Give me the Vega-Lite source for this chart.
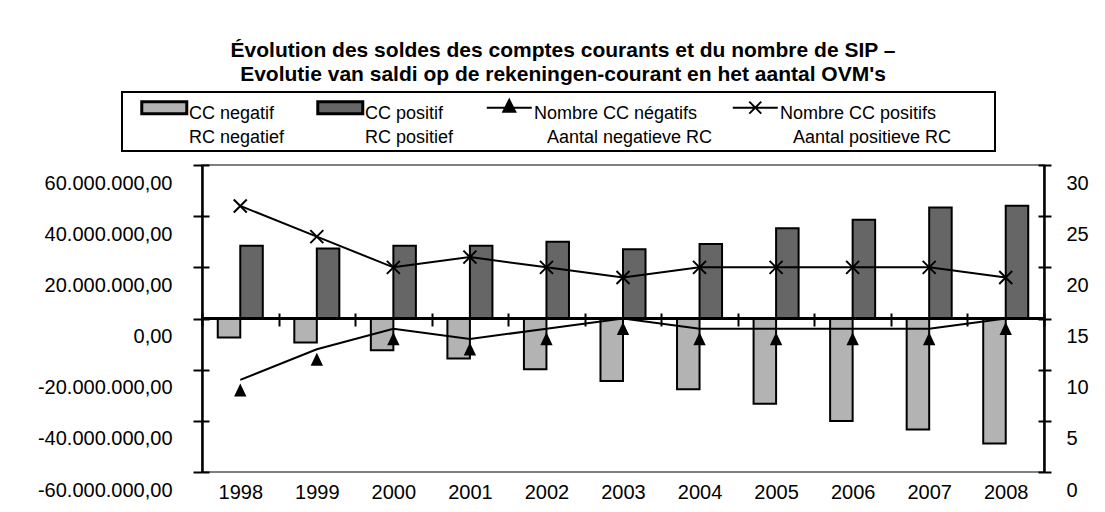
{
  "$schema": "https://vega.github.io/schema/vega-lite/v6.json",
  "width": 842,
  "height": 307,
  "autosize": {"type": "none"},
  "padding": {"left": 202, "top": 165, "right": 61, "bottom": 40},
  "background": "white",
  "title": {
    "text": ["Évolution des soldes des comptes courants et du nombre de SIP –", "Evolutie van saldi op de rekeningen-courant en het aantal OVM's"],
    "font": "Liberation Sans",
    "fontSize": 21,
    "fontWeight": "bold",
    "color": "black",
    "anchor": "middle",
    "frame": "group",
    "dx": -60,
    "dy": 24,
    "offset": 9,
    "lineHeight": 24.5,
    "baseline": "bottom"
  },
  "datasets": {
    "bars": [
      {"year": 1998, "series": "neg", "value": -7400000},
      {"year": 1998, "series": "pos", "value": 28400000},
      {"year": 1999, "series": "neg", "value": -9400000},
      {"year": 1999, "series": "pos", "value": 27400000},
      {"year": 2000, "series": "neg", "value": -12400000},
      {"year": 2000, "series": "pos", "value": 28400000},
      {"year": 2001, "series": "neg", "value": -15600000},
      {"year": 2001, "series": "pos", "value": 28400000},
      {"year": 2002, "series": "neg", "value": -19800000},
      {"year": 2002, "series": "pos", "value": 30000000},
      {"year": 2003, "series": "neg", "value": -24400000},
      {"year": 2003, "series": "pos", "value": 27100000},
      {"year": 2004, "series": "neg", "value": -27700000},
      {"year": 2004, "series": "pos", "value": 29100000},
      {"year": 2005, "series": "neg", "value": -33300000},
      {"year": 2005, "series": "pos", "value": 35300000},
      {"year": 2006, "series": "neg", "value": -40100000},
      {"year": 2006, "series": "pos", "value": 38600000},
      {"year": 2007, "series": "neg", "value": -43400000},
      {"year": 2007, "series": "pos", "value": 43400000},
      {"year": 2008, "series": "neg", "value": -48900000},
      {"year": 2008, "series": "pos", "value": 44100000}
    ],
    "counts": [
      {"year": 1998, "series": "neg", "count": 9},
      {"year": 1999, "series": "neg", "count": 12},
      {"year": 2000, "series": "neg", "count": 14},
      {"year": 2001, "series": "neg", "count": 13},
      {"year": 2002, "series": "neg", "count": 14},
      {"year": 2003, "series": "neg", "count": 15},
      {"year": 2004, "series": "neg", "count": 14},
      {"year": 2005, "series": "neg", "count": 14},
      {"year": 2006, "series": "neg", "count": 14},
      {"year": 2007, "series": "neg", "count": 14},
      {"year": 2008, "series": "neg", "count": 15},
      {"year": 1998, "series": "pos", "count": 26},
      {"year": 1999, "series": "pos", "count": 23},
      {"year": 2000, "series": "pos", "count": 20},
      {"year": 2001, "series": "pos", "count": 21},
      {"year": 2002, "series": "pos", "count": 20},
      {"year": 2003, "series": "pos", "count": 19},
      {"year": 2004, "series": "pos", "count": 20},
      {"year": 2005, "series": "pos", "count": 20},
      {"year": 2006, "series": "pos", "count": 20},
      {"year": 2007, "series": "pos", "count": 20},
      {"year": 2008, "series": "pos", "count": 19}
    ]
  },
  "layer": [
    {
      "data": {"name": "bars"},
      "layer": [
        {
          "mark": {"type": "bar", "stroke": "black", "strokeWidth": 2},
          "encoding": {
            "x": {
              "field": "year",
              "type": "ordinal",
              "scale": {"paddingInner": 0, "paddingOuter": 0},
              "axis": {
                "title": null,
                "orient": "bottom",
                "offset": -159,
                "domain": false,
                "tickBand": "extent",
                "tickSize": 13,
                "tickWidth": 2,
                "tickColor": "black",
                "labelPadding": 156,
                "labelAngle": 0,
                "labelFontSize": 20,
                "labelFont": "Liberation Sans",
                "labelColor": "black"
              }
            },
            "xOffset": {"field": "series", "scale": {"domain": ["neg", "pos"], "paddingInner": 0, "paddingOuter": 0.7}},
            "y": {
              "field": "value",
              "type": "quantitative",
              "scale": {"domain": [-60000000, 60000000], "nice": false, "zero": false},
              "axis": {
                "orient": "left",
                "title": null,
                "values": [-60000000, -40000000, -20000000, 0, 20000000, 40000000, 60000000],
                "format": ",.2f",
                "labelOffset": 18,
                "labelPadding": 21,
                "labelFontSize": 20,
                "labelFont": "Liberation Sans",
                "labelColor": "black",
                "labelFlush": false,
                "labelOverlap": false,
                "labelBound": false,
                "tickSize": 9,
                "tickWidth": 2,
                "tickColor": "black",
                "domainColor": "black",
                "domainWidth": 2.5,
                "grid": false
              }
            },
            "fill": {
              "field": "series",
              "type": "nominal",
              "scale": {"domain": ["neg", "pos", "nneg", "npos"], "range": ["#b3b3b3", "#666666", "#000000", "#000000"]},
              "legend": {
                "orient": "none",
                "legendX": -80,
                "legendY": -73,
                "direction": "horizontal",
                "title": null,
                "padding": 4,
                "strokeColor": "black",
                "fillColor": "white",
                "columnPadding": 4,
                "labelFont": "Liberation Sans",
                "labelFontSize": 18,
                "labelColor": "black",
                "labelLimit": 400,
                "labelOffset": 45,
                "labelBaseline": "top",
                "symbolSize": 144,
                "symbolType": {"expr": "datum.value == 'neg' || datum.value == 'pos' ? 'M1.13,-0.6H8.63V1.4H1.13Z' : datum.value == 'nneg' ? 'M1.13,0.4H8.63M4.88,-0.9L5.88,1.1H3.88Z' : 'M1.13,0.4H8.63M3.88,-0.6L5.88,1.4M3.88,1.4L5.88,-0.6'"},
                "symbolStrokeColor": "black",
                "symbolStrokeWidth": {"expr": "datum.value == 'neg' || datum.value == 'pos' ? 3 : 2"},
                "symbolOpacity": 1,
                "labelExpr": "datum.value == 'neg' ? ['CC negatif', 'RC negatief\u2800'] : datum.value == 'pos' ? ['CC positif', 'RC positief\u2800'] : datum.value == 'nneg' ? ['Nombre CC négatifs', '\u2800Aantal negatieve RC'] : ['Nombre CC positifs', '\u2800Aantal positieve RC\u2800\u2800\u2800']"
              }
            }
          }
        },
        {
          "data": {"values": [{"zero": 0}]},
          "mark": {"type": "rule", "stroke": "black", "strokeWidth": 3},
          "encoding": {"y": {"field": "zero", "type": "quantitative"}}
        }
      ]
    },
    {
      "data": {"name": "counts"},
      "encoding": {
        "x": {"field": "year", "type": "ordinal"},
        "y": {
          "field": "count",
          "type": "quantitative",
          "scale": {"domain": [0, 30], "nice": false},
          "axis": {
            "orient": "right",
            "title": null,
            "values": [0, 5, 10, 15, 20, 25, 30],
            "labelOffset": 18,
            "labelPadding": 15,
            "labelFontSize": 20,
            "labelFont": "Liberation Sans",
            "labelColor": "black",
            "labelFlush": false,
            "labelOverlap": false,
            "labelBound": false,
            "tickSize": 7,
            "tickWidth": 2,
            "tickColor": "black",
            "domainColor": "black",
            "domainWidth": 2.5,
            "grid": false
          }
        }
      },
      "layer": [
        {
          "mark": {"type": "line", "stroke": "black", "strokeWidth": 2},
          "encoding": {"detail": {"field": "series", "type": "nominal"}}
        },
        {
          "transform": [{"filter": "datum.series == 'neg'"}],
          "mark": {"type": "point", "shape": "M0,-1L0.95,1H-0.95Z", "size": 169, "filled": true, "fill": "black", "strokeWidth": 0, "opacity": 1, "yOffset": 10}
        },
        {
          "transform": [{"filter": "datum.series == 'pos'"}],
          "mark": {"type": "point", "shape": "M-1,-1L1,1M-1,1L1,-1", "size": 169, "filled": false, "stroke": "black", "strokeWidth": 2, "opacity": 1}
        }
      ]
    },
    {
      "data": {"name": "bars"},
      "mark": {"type": "point", "opacity": 0},
      "encoding": {
        "x": {"field": "year", "type": "ordinal"},
        "y": {
          "field": "value",
          "type": "quantitative",
          "scale": {"domain": [-60000000, 60000000], "nice": false, "zero": false},
          "axis": {"orient": "left", "title": null, "values": [-60000000, -40000000, -20000000, 0, 20000000, 40000000, 60000000], "labels": false, "domain": false, "tickSize": -7, "tickWidth": 2, "tickColor": "black", "grid": false}
        }
      }
    },
    {
      "data": {"name": "counts"},
      "mark": {"type": "point", "opacity": 0},
      "encoding": {
        "x": {"field": "year", "type": "ordinal"},
        "y": {
          "field": "count",
          "type": "quantitative",
          "scale": {"domain": [0, 30], "nice": false},
          "axis": {"orient": "right", "title": null, "values": [0, 5, 10, 15, 20, 25, 30], "labels": false, "domain": false, "tickSize": -6, "tickWidth": 2, "tickColor": "black", "grid": false}
        }
      }
    }
  ],
  "resolve": {"scale": {"y": "independent"}},
  "config": {
    "font": "Liberation Sans",
    "locale": {"number": {"decimal": ",", "thousands": ".", "grouping": [3], "currency": ["", ""], "minus": "-"}},
    "view": {"stroke": "#808080", "strokeWidth": 2},
    "legend": {"strokeWidth": 2},
    "style": {"guide-label": {"lineHeight": 23.5}}
  }
}
